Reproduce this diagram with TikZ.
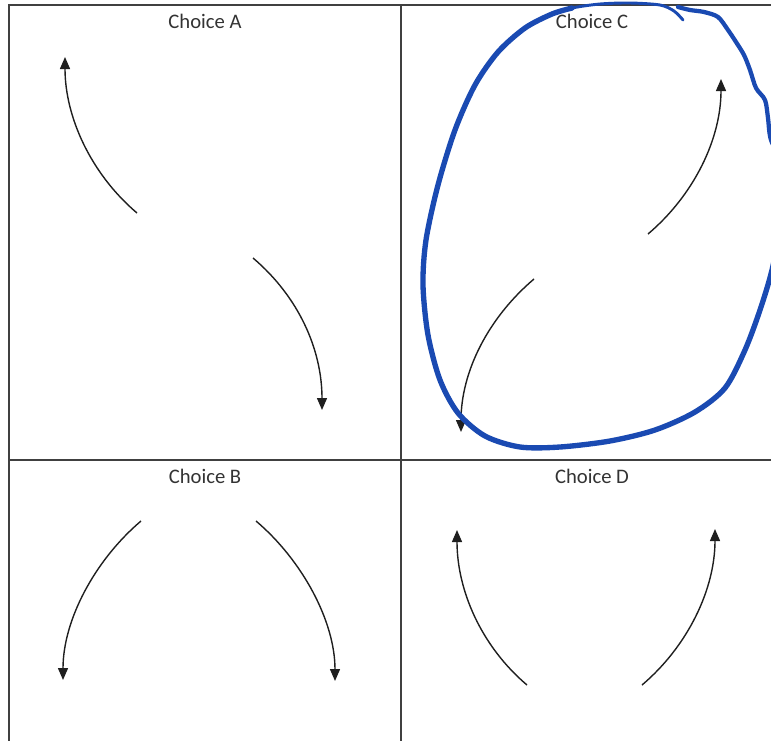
\documentclass[tikz,border=0pt]{standalone}
\usepackage{fontspec}
\setmainfont{Carlito}
\usepackage{tikz}
\usetikzlibrary{arrows.meta}
\definecolor{penblue}{RGB}{26,74,178}
\definecolor{gridgray}{RGB}{64,64,64}

\begin{document}
\begin{tikzpicture}[x=0.75pt, y=-0.75pt,
    gridline/.style={gridgray, line width=1.1pt},
    choicearrow/.style={black!88, line width=1.05pt, -{Triangle[length=9pt, width=7.5pt]}},
    choicelabel/.style={font=\fontsize{15.5}{18}\selectfont, text=black!80, inner sep=0pt, anchor=base},
    pen/.style={penblue, line cap=round, line join=round}]
    \useasboundingbox (0,0) rectangle (771,740);
    \clip (0,0) rectangle (771,740);
    % grid of the four choices
    \draw[gridline] (9,760) -- (9,5) -- (790,5);
    \draw[gridline] (401,5) -- (401,760);
    \draw[gridline] (9,460) -- (790,460);
    % labels
    \node[choicelabel] (labA) at (205,28) {Choice A};
    \node[choicelabel] (labC) at (592,28) {Choice C};
    \node[choicelabel] (labB) at (205,483) {Choice B};
    \node[choicelabel] (labD) at (592,483) {Choice D};
    % curved arrows: start / tip / first control / second control
    \foreach \sx/\sy/\ex/\ey/\ax/\ay/\bx/\by in {
        137/213/65/57/-46/-39/0/60,
        253/258/322/410/46/39/0/-60,
        648/234/721/79/46/-39/0/60,
        534/279/461/432/-46/39/0/-60,
        141/521/63/680/-46/39/0/-60,
        256/521/335/681/46/39/0/-60,
        527/685/457/530/-46/-39/0/60,
        642/685/715/529/46/-39/0/60} {
        \draw[choicearrow] (\sx,\sy) .. controls +(\ax,\ay) and +(\bx,\by) .. (\ex,\ey);
    }
    % hand-drawn loop round choice C
    \draw[pen, line width=2.2pt] plot[smooth] coordinates {(683,20) (674,11) (660,5) (630,3) (600,4) (572,8) (552,14)};
    \draw[pen, line width=4pt] plot[smooth] coordinates {(572,8) (552,14) (525,28) (498,52) (475,85) (455,130)
        (438,185) (426,240) (423,285) (428,335) (440,380) (458,413) (485,436) (520,447) (560,447)
        (610,441) (655,430) (695,412) (725,388) (745,350) (760,310) (772,270) (782,220)};
    \draw[pen, line width=3.2pt] plot[smooth] coordinates {(782,220) (784,170) (771,140) (768,118) (765,100)
        (756,88) (750,70) (744,55) (736,42) (728,30) (718,17) (704,12) (690,10) (678,7)};
\end{tikzpicture}
\end{document}
